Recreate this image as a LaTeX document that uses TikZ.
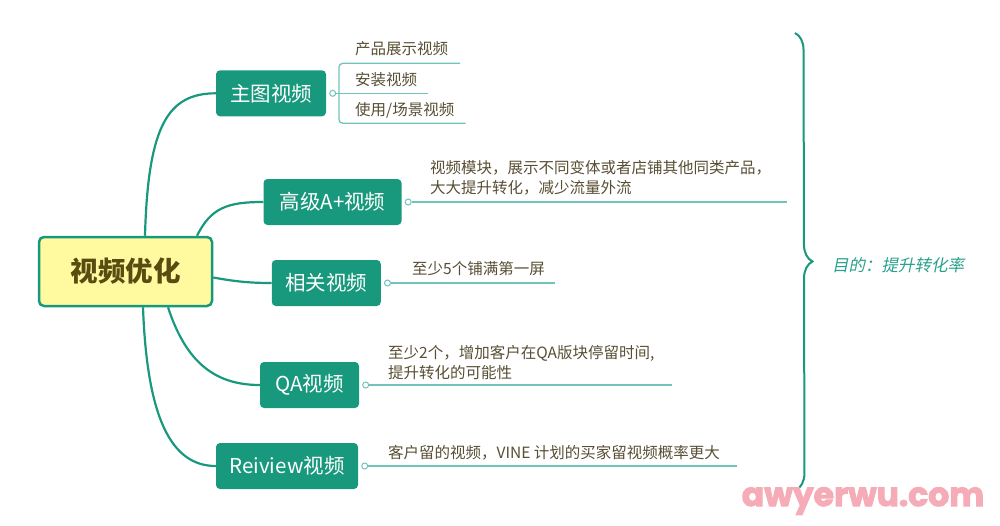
\documentclass[tikz,border=0pt]{standalone}
\usepackage{fontspec}
\setmainfont{Noto Sans CJK SC}
\newfontfamily\goalfont{Noto Sans CJK SC}[FakeSlant=0.2]
\newfontfamily\markfont{Poppins}[FakeBold=3]
\usetikzlibrary{positioning,decorations.pathreplacing}

\begin{document}
\begin{tikzpicture}[x=1pt, y=-1pt,
        branch/.style={fill=branchcol, text=white, rounded corners=4pt, inner sep=0,
            minimum height=46pt, font=\fontsize{20.5}{24}\selectfont},
        link/.style={draw=branchcol, line width=2.2pt},
        sub/.style={draw=subcol, line width=1.3pt},
        dot/.style={circle, draw=subcol, fill=white, line width=1pt, inner sep=0, minimum size=6pt},
        note/.style={anchor=west, align=left, inner sep=0, text=notecol,
            font=\fontsize{15.5}{20}\selectfont}]
    % Define colors
    \definecolor{branchcol}{RGB}{24,152,124}
    \definecolor{subcol}{RGB}{112,196,186}
    \definecolor{notecol}{RGB}{88,78,52}
    \definecolor{rootfill}{RGB}{255,250,160}
    \definecolor{roottext}{RGB}{88,76,16}
    \definecolor{goalcol}{RGB}{40,160,140}
    \definecolor{markcol}{RGB}{246,172,182}

    \useasboundingbox (0,0) rectangle (1000,525);

    % Root
    \node[draw=branchcol, line width=2.5pt, fill=rootfill, rounded corners=5pt,
        minimum width=173pt, minimum height=69pt, text=roottext,
        font=\fontsize{27.5}{30}\selectfont\bfseries] (root) at (125.5,271.5) {视频优化};

    % Branches
    \node[branch, minimum width=110pt] (mainvid) at (271,93.3) {主图视频};
    \node[branch, minimum width=138pt] (aplus) at (332.5,202) {高级A+视频};
    \node[branch, minimum width=109pt] (related) at (326.3,283) {相关视频};
    \node[branch, minimum width=99pt] (qavid) at (309.5,385) {QA视频};
    \node[branch, minimum width=142pt] (review) at (287,466) {Reiview视频};

    % Links from the root
    \draw[link] ([xshift=19.5pt]root.north) .. controls +(3,-110) and +(-48,0) .. (mainvid.west);
    \draw[link] ([xshift=71.5pt]root.north) .. controls +(14,-28) and +(-36,0) .. (aplus.west);
    \draw[link] ([yshift=-6pt]root.east) .. controls +(22,4) and +(-22,0) .. (related.west);
    \draw[link] ([xshift=42.5pt]root.south) .. controls +(18,55) and +(-45,0) .. (qavid.west);
    \draw[link] ([xshift=17.5pt]root.south) .. controls +(4,110) and +(-45,0) .. (review.west);

    % Dots
    \foreach \b in {mainvid, aplus, related, qavid, review}
        \node[dot, right=3pt of \b] (\b dot) {};

    % Lines to the notes
    \foreach \b/\e in {aplus/787, related/555, qavid/672, review/737} {
        \coordinate (\b end) at (\b dot -| \e,0);
        \draw[sub] (\b dot) -- (\b end);
    }

    % Sub-branches of the main picture video
    \coordinate (topend) at (460,63.3);
    \coordinate (midend) at (427.7,93.3);
    \coordinate (botend) at (465.7,123.3);
    \draw[sub] (mainviddot) -- (midend);
    \draw[sub, rounded corners=4pt] (topend) -| ([xshift=2.7pt]mainviddot.east) |- (botend);

    % Notes
    \node[note] (sub1) at (355,49) {产品展示视频};
    \node[note] (sub2) at (355,80) {安装视频};
    \node[note] (sub3) at (355,110) {使用/场景视频};
    \node[note] (aplusnote) at (430,178) {视频模块，展示不同变体或者店铺其他同类产品，\\大大提升转化，减少流量外流};
    \node[note] (relatednote) at (412,269) {至少5个铺满第一屏};
    \node[note] (qanote) at (388,362.5) {至少2个，增加客户在QA版块停留时间,\\提升转化的可能性};
    \node[note] (reviewnote) at (388,453) {客户留的视频，VINE 计划的买家留视频概率更大};

    % Brace and goal
    \draw[draw=branchcol, line width=2pt, decorate, decoration={brace, amplitude=17pt}]
        (795,33) -- (796,490);
    \node[anchor=west, inner sep=0, text=goalcol, font=\goalfont\fontsize{16.5}{18}\selectfont]
        (goal) at (832,265) {目的：提升转化率};

    % Watermark
    \node[anchor=base, inner sep=0, text=markcol, font=\markfont\bfseries\fontsize{33}{36}\selectfont]
        (mark) at (863,506) {awyerwu.com};
\end{tikzpicture}
\end{document}
